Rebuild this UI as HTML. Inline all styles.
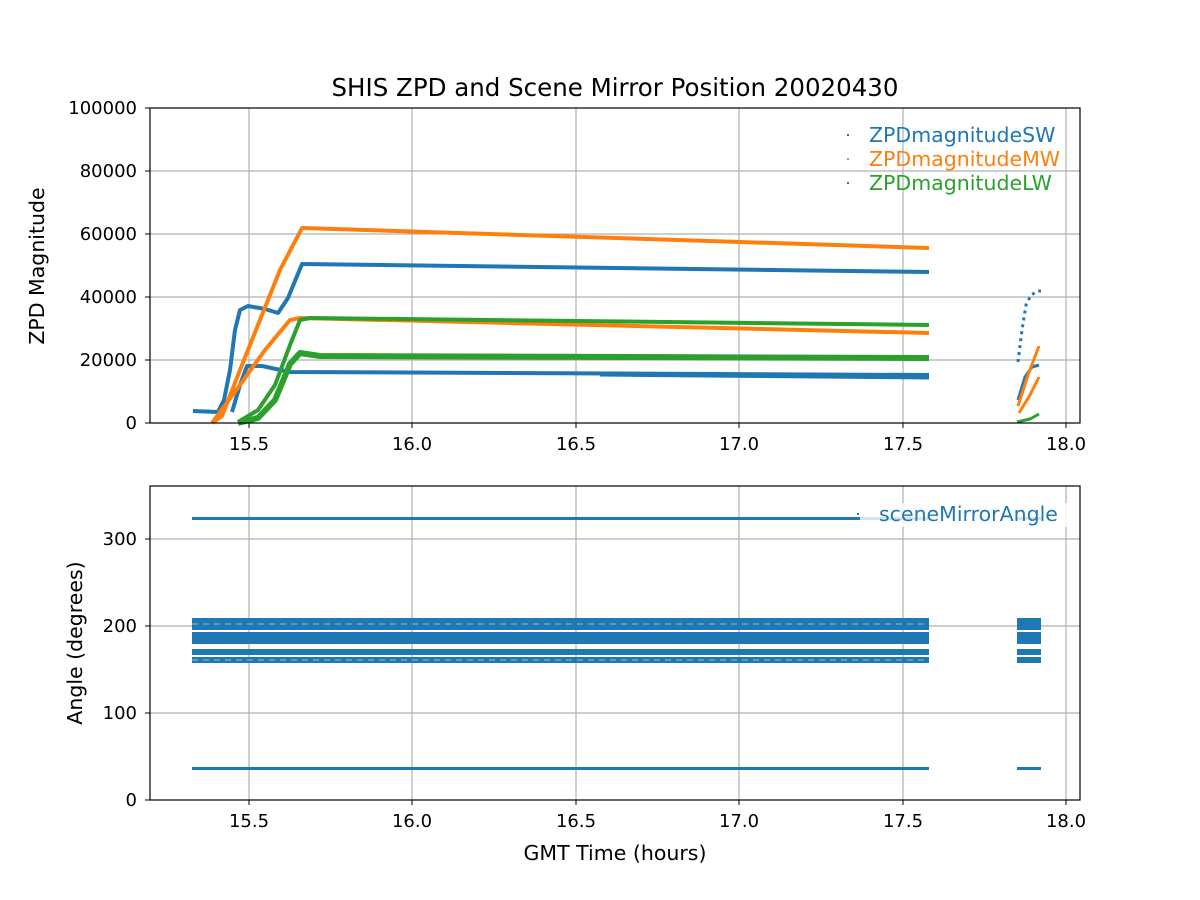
<!DOCTYPE html>
<html><head><meta charset="utf-8"><style>body{margin:0;background:#fff}svg{display:block}text{font-family:"DejaVu Sans","Liberation Sans",sans-serif}</style></head>
<body>
<svg width="1200" height="900" xmlns="http://www.w3.org/2000/svg">
<rect width="1200" height="900" fill="#fff"/>
<g stroke="#b0b0b0" stroke-width="1.2">
<line x1="249" y1="108" x2="249" y2="423"/><line x1="412" y1="108" x2="412" y2="423"/><line x1="576" y1="108" x2="576" y2="423"/><line x1="739" y1="108" x2="739" y2="423"/><line x1="903" y1="108" x2="903" y2="423"/><line x1="1066" y1="108" x2="1066" y2="423"/>
<line x1="150" y1="360" x2="1080" y2="360"/><line x1="150" y1="297" x2="1080" y2="297"/><line x1="150" y1="234" x2="1080" y2="234"/><line x1="150" y1="171" x2="1080" y2="171"/>
</g>
<g fill="none" stroke-linejoin="round">
<path d="M193,411 L218,412 L224,400 L230,370 L235,330 L240,310 L248,306 L265,309 L278,313 L288,298 L302,264 L929,272" stroke="#1f77b4" stroke-width="4"/>
<path d="M232,412 L240,385 L247,366 L262,366 L290,372 L929,375" stroke="#1f77b4" stroke-width="4"/>
<path d="M600,374 L929,377" stroke="#1f77b4" stroke-width="5"/>
<path d="M212,423 L222,416 L240,370 L260,320 L280,270 L302,228 L929,248" stroke="#ff7f0e" stroke-width="4"/>
<path d="M212,423 L240,385 L265,350 L290,320 L300,318 L929,333" stroke="#ff7f0e" stroke-width="4"/>
<path d="M238,422 L258,410 L275,385 L290,345 L300,320 L310,318 L929,325" stroke="#2ca02c" stroke-width="4"/>
<path d="M238,423 L258,418 L275,400 L290,364 L300,353 L320,356 L929,358" stroke="#2ca02c" stroke-width="6"/>
<path d="M1018,362 L1022,330 L1026,305 L1031,295 L1038,291 L1041,291" stroke="#1f77b4" stroke-width="3" stroke-dasharray="3,4"/>
<path d="M1018,400 L1025,377 L1032,367 L1039,365" stroke="#1f77b4" stroke-width="3"/>
<path d="M1018,406 L1028,375 L1039,346" stroke="#ff7f0e" stroke-width="3"/>
<path d="M1019,413 L1030,395 L1039,377" stroke="#ff7f0e" stroke-width="3"/>
<path d="M1017,422 L1030,419 L1039,414" stroke="#2ca02c" stroke-width="3"/>
</g>
<g stroke="#000" stroke-width="1.2" fill="none"><rect x="150" y="108" width="930" height="315"/></g>
<g stroke="#000" stroke-width="1"><line x1="249" y1="423" x2="249" y2="428"/><line x1="412" y1="423" x2="412" y2="428"/><line x1="576" y1="423" x2="576" y2="428"/><line x1="739" y1="423" x2="739" y2="428"/><line x1="903" y1="423" x2="903" y2="428"/><line x1="1066" y1="423" x2="1066" y2="428"/>
<line x1="145" y1="423" x2="150" y2="423"/><line x1="145" y1="360" x2="150" y2="360"/><line x1="145" y1="297" x2="150" y2="297"/><line x1="145" y1="234" x2="150" y2="234"/><line x1="145" y1="171" x2="150" y2="171"/><line x1="145" y1="108" x2="150" y2="108"/></g>
<g font-size="18" fill="#000" text-anchor="end">
<text x="137" y="429">0</text><text x="137" y="366">20000</text><text x="137" y="303">40000</text><text x="137" y="240">60000</text><text x="137" y="177">80000</text><text x="137" y="114">100000</text></g>
<g font-size="18" fill="#000" text-anchor="middle">
<text x="249" y="450">15.5</text><text x="412" y="450">16.0</text><text x="576" y="450">16.5</text><text x="739" y="450">17.0</text><text x="903" y="450">17.5</text><text x="1066" y="450">18.0</text></g>
<text x="44" y="266" font-size="20.5" text-anchor="middle" transform="rotate(-90 44 266)">ZPD Magnitude</text>
<text x="615" y="96" font-size="24.5" text-anchor="middle">SHIS ZPD and Scene Mirror Position 20020430</text>
<g font-size="20.5"><rect x="847" y="134" width="2" height="2" fill="#1f77b4"/><text x="869" y="142" fill="#1f77b4">ZPDmagnitudeSW</text>
<rect x="847" y="158" width="2" height="2" fill="#ff7f0e"/><text x="869" y="166" fill="#ff7f0e">ZPDmagnitudeMW</text>
<rect x="847" y="182" width="2" height="2" fill="#2ca02c"/><text x="869" y="190" fill="#2ca02c">ZPDmagnitudeLW</text></g>

<g stroke="#b0b0b0" stroke-width="1.2">
<line x1="249" y1="486" x2="249" y2="800"/><line x1="412" y1="486" x2="412" y2="800"/><line x1="576" y1="486" x2="576" y2="800"/><line x1="739" y1="486" x2="739" y2="800"/><line x1="903" y1="486" x2="903" y2="800"/><line x1="1066" y1="486" x2="1066" y2="800"/>
<line x1="150" y1="713" x2="1080" y2="713"/><line x1="150" y1="626" x2="1080" y2="626"/><line x1="150" y1="539" x2="1080" y2="539"/>
</g>
<g fill="#1f77b4">
<rect x="192" y="517" width="737" height="3"/><rect x="192" y="767" width="737" height="3"/>
<rect x="192" y="618" width="737" height="12"/><rect x="192" y="632" width="737" height="12"/><rect x="192" y="649" width="737" height="6"/><rect x="192" y="657" width="737" height="6"/>
<rect x="1017" y="517" width="24" height="3"/><rect x="1017" y="767" width="24" height="3"/>
<rect x="1017" y="618" width="24" height="12"/><rect x="1017" y="632" width="24" height="12"/><rect x="1017" y="649" width="24" height="6"/><rect x="1017" y="657" width="24" height="6"/>
</g>
<g stroke="#fff" stroke-width="1" opacity="0.5" stroke-dasharray="6,5"><line x1="192" y1="624" x2="929" y2="624"/><line x1="192" y1="660" x2="929" y2="660"/></g>
<rect x="860" y="503" width="210" height="24" fill="#fff" opacity="0.8"/>
<rect x="857" y="513" width="2" height="2" fill="#1f77b4"/><text x="879" y="521" font-size="20.5" fill="#1f77b4">sceneMirrorAngle</text>
<g stroke="#000" stroke-width="1.2" fill="none"><rect x="150" y="486" width="930" height="314"/></g>
<g stroke="#000" stroke-width="1"><line x1="249" y1="800" x2="249" y2="805"/><line x1="412" y1="800" x2="412" y2="805"/><line x1="576" y1="800" x2="576" y2="805"/><line x1="739" y1="800" x2="739" y2="805"/><line x1="903" y1="800" x2="903" y2="805"/><line x1="1066" y1="800" x2="1066" y2="805"/>
<line x1="145" y1="800" x2="150" y2="800"/><line x1="145" y1="713" x2="150" y2="713"/><line x1="145" y1="626" x2="150" y2="626"/><line x1="145" y1="539" x2="150" y2="539"/></g>
<g font-size="18" fill="#000" text-anchor="end">
<text x="137" y="806">0</text><text x="137" y="719">100</text><text x="137" y="632">200</text><text x="137" y="545">300</text></g>
<g font-size="18" fill="#000" text-anchor="middle">
<text x="249" y="827">15.5</text><text x="412" y="827">16.0</text><text x="576" y="827">16.5</text><text x="739" y="827">17.0</text><text x="903" y="827">17.5</text><text x="1066" y="827">18.0</text></g>
<text x="615" y="860" font-size="20.5" text-anchor="middle">GMT Time (hours)</text>
<text x="82" y="643" font-size="20.5" text-anchor="middle" transform="rotate(-90 82 643)">Angle (degrees)</text>
</svg>
</body></html>
